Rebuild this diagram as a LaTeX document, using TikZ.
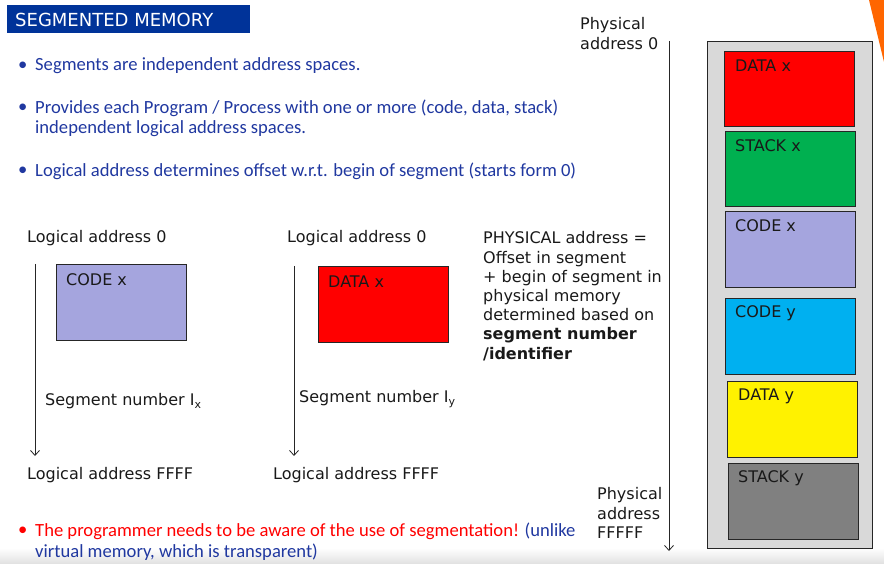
\documentclass[tikz,border=0pt]{standalone}
\usepackage{fontspec}
\setmainfont{DejaVu Sans}
\newfontfamily\bodyfont{Carlito}
\usetikzlibrary{arrows.meta}
\definecolor{titleblue}{RGB}{0,51,153}
\definecolor{bulletblue}{RGB}{32,56,160}
\definecolor{segcode}{RGB}{165,165,222}
\definecolor{seggreen}{RGB}{0,176,80}
\definecolor{segcyan}{RGB}{0,176,240}
\definecolor{seggray}{RGB}{128,128,128}
\definecolor{memgray}{RGB}{217,217,217}
\definecolor{accent}{RGB}{255,102,0}
\newcommand{\lbl}{\fontsize{16}{19.2}\selectfont}
\newcommand{\blt}{\fontsize{18.6}{21}\selectfont\bodyfont}
\newcommand{\subx}[1]{\raisebox{-0.35ex}{\fontsize{11}{11}\selectfont #1}}
\tikzset{
  label text/.style={inner sep=0pt, anchor=west, font=\lbl, text=black!90},
  block text/.style={inner sep=0pt, anchor=north west, align=left, font=\lbl, text=black!90},
  bullet text/.style={inner sep=0pt, anchor=west, font=\blt, text=bulletblue},
  segment/.style={draw=black!85, line width=0.8pt, inner sep=0pt, anchor=north west},
  seg label/.style={inner sep=0pt, anchor=west, font=\lbl, text=black!90},
  axis/.style={draw=black!85, line width=0.8pt, -{Straight Barb[length=5pt,width=9pt]}},
  dot/.style={inner sep=0pt, anchor=west, font=\blt}
}
\begin{document}
\begin{tikzpicture}[x=1pt,y=-1pt]
  \useasboundingbox (0,0) rectangle (884,564);
  % soft grey floor along the bottom edge
  \shade[top color=white, bottom color=black!12] (0,548) rectangle (884,564);
  % orange corner wedge
  \fill[accent] (869,0) -- (884,0) -- (884,62) -- cycle;

  % title bar
  \node[fill=titleblue, minimum width=243pt, minimum height=28pt, inner sep=0pt, anchor=north west] (title) at (7,5) {};
  \node[inner sep=0pt, anchor=west, text=white, font=\fontsize{18}{20}\selectfont] at (15,19.5) {SEGMENTED MEMORY};

  % bullet list
  \node[dot, text=bulletblue] at (18,66) {•};
  \node[bullet text] (b1) at (35,66) {Segments are independent address spaces.};
  \node[dot, text=bulletblue] at (18,108) {•};
  \node[bullet text] (b2) at (35,108) {Provides each Program / Process with one or more (code, data, stack)};
  \node[bullet text] (b2b) at (35,129) {independent logical address spaces.};
  \node[dot, text=bulletblue] at (18,171) {•};
  \node[bullet text] (b3) at (35,171) {Logical address determines offset w.r.t. begin of segment (starts form 0)};

  % logical segment x
  \node[label text] (lx0) at (27,238) {Logical address 0};
  \coordinate (lxtop) at (35,264);
  \coordinate (lxbot) at (35,456);
  \draw[axis] (lxtop) -- (lxbot);
  \node[segment, fill=segcode, minimum width=130pt, minimum height=76pt] (codex) at (56,264) {};
  \node[seg label] at (66,280) {CODE x};
  \node[label text] (segx) at (45,401) {Segment number I\subx{x}};
  \node[label text] (lxf) at (27,475) {Logical address FFFF};

  % logical segment y
  \node[label text] (ly0) at (287,238) {Logical address 0};
  \coordinate (lytop) at (294,266);
  \coordinate (lybot) at (294,456);
  \draw[axis] (lytop) -- (lybot);
  \node[segment, fill=red, minimum width=130pt, minimum height=76pt] (datax) at (318,266) {};
  \node[seg label] at (328,282) {DATA x};
  \node[label text] (segy) at (299,399) {Segment number I\subx{y}};
  \node[label text] (lyf) at (273,475) {Logical address FFFF};

  % address formula
  \node[block text] (formula) at (483,231.5)
    {PHYSICAL address =\\Offset in segment\\+ begin of segment in\\physical memory\\determined based on\\\textbf{segment number}\\\textbf{/identifier}};

  % physical address axis
  \node[block text] (p0) at (580,17.5) {Physical\\address 0};
  \coordinate (ptop) at (669,41);
  \coordinate (pbot) at (669,551);
  \draw[axis] (ptop) -- (pbot);
  \node[block text] (pf) at (597,487.5) {Physical\\address\\FFFFF};

  % physical memory
  \node[segment, fill=memgray, minimum width=165pt, minimum height=507pt] (mem) at (707,41) {};
  \node[segment, fill=red, minimum width=130pt, minimum height=75pt] (m1) at (724,51) {};
  \node[seg label] at (735,66) {DATA x};
  \node[segment, fill=seggreen, minimum width=130pt, minimum height=75pt] (m2) at (725,131) {};
  \node[seg label] at (735,146) {STACK x};
  \node[segment, fill=segcode, minimum width=130pt, minimum height=76pt] (m3) at (725,211) {};
  \node[seg label] at (735,226) {CODE x};
  \node[segment, fill=segcyan, minimum width=130pt, minimum height=76pt] (m4) at (725,298) {};
  \node[seg label] at (735,313) {CODE y};
  \node[segment, fill=yellow, minimum width=130pt, minimum height=76pt] (m5) at (727,381) {};
  \node[seg label] at (738,396) {DATA y};
  \node[segment, fill=seggray, minimum width=130pt, minimum height=76pt] (m6) at (728,463) {};
  \node[seg label] at (738,478) {STACK y};

  % closing remark
  \node[dot, text=red] at (18,531) {•};
  \node[bullet text, text=red] (r1) at (35,531) {The programmer needs to be aware of the use of segmentation! \textcolor{bulletblue}{(unlike}};
  \node[bullet text] (r2) at (35,552) {virtual memory, which is transparent)};
\end{tikzpicture}
\end{document}
